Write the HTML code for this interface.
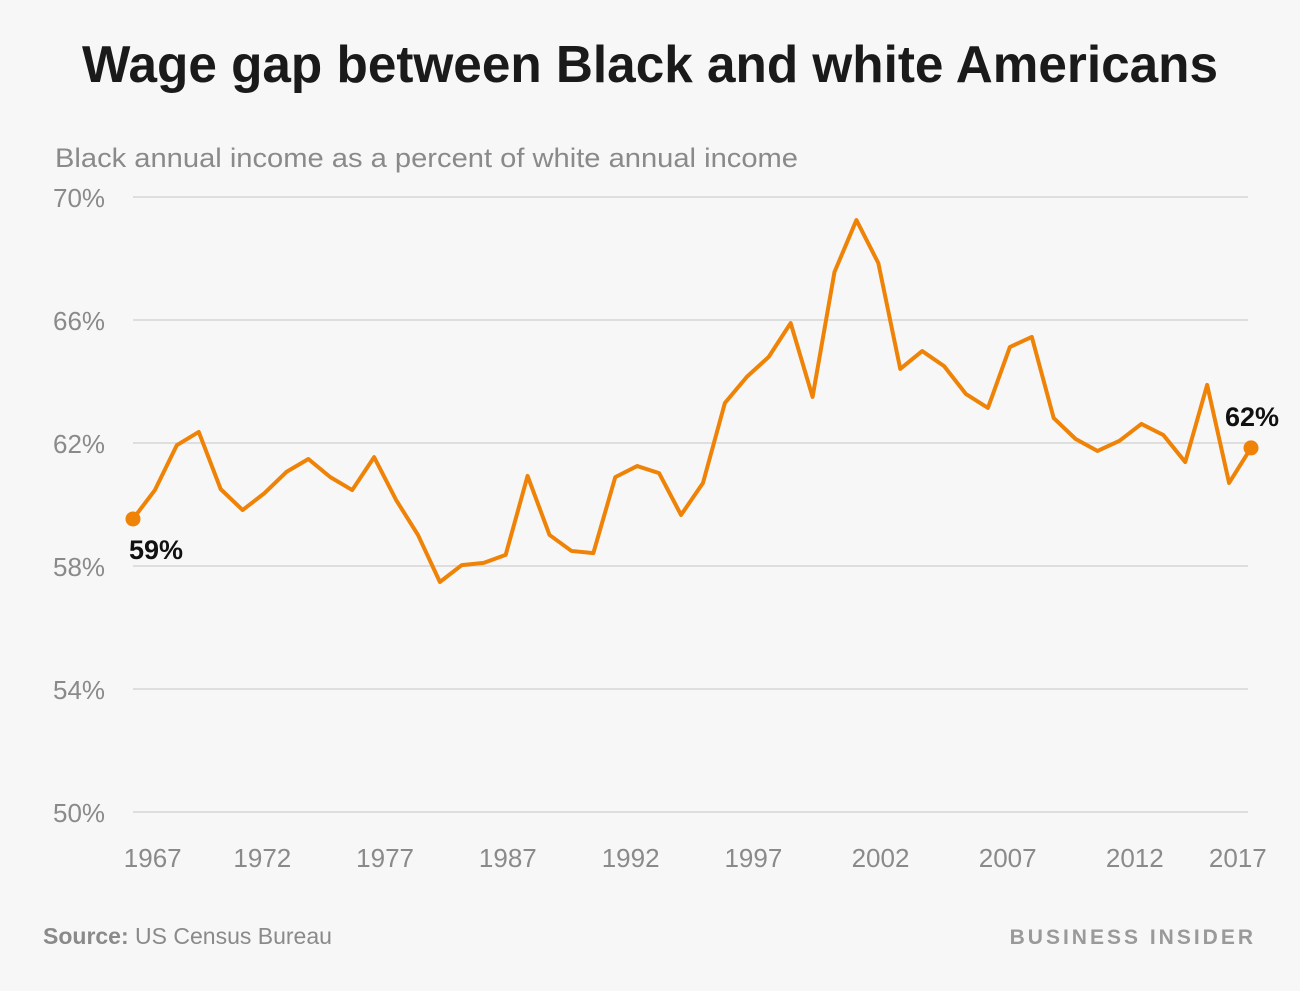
<!DOCTYPE html>
<html><head><meta charset="utf-8"><style>
body{margin:0;background:#f7f7f7;width:1300px;height:986px;overflow:hidden;font-family:"Liberation Sans",sans-serif}
</style></head><body>
<svg id="chart" width="1300" height="986" xmlns="http://www.w3.org/2000/svg">
<rect width="1300" height="986" fill="#f7f7f7"/>
<text x="650" y="82" text-anchor="middle" font-size="52" font-weight="bold" fill="#1a1a1a" textLength="1136" lengthAdjust="spacingAndGlyphs">Wage gap between Black and white Americans</text>
<text x="55" y="167" font-size="27" fill="#8a8a8a" textLength="743" lengthAdjust="spacingAndGlyphs">Black annual income as a percent of white annual income</text>
<g id="grid"></g><g id="ylabels"></g><g id="xlabels"></g><g id="series"></g>
<text x="43" y="944" font-size="23" fill="#8a8a8a"><tspan font-weight="bold">Source:</tspan> US Census Bureau</text>
<text x="1256" y="944" text-anchor="end" font-size="21" font-weight="bold" letter-spacing="3" fill="#9a9a9a">BUSINESS INSIDER</text>
</svg>
<script>
const values=[59.53,60.47,61.93,62.36,60.50,59.82,60.37,61.06,61.48,60.89,60.47,61.54,60.15,59.01,57.48,58.03,58.10,58.36,60.93,59.01,58.49,58.42,60.89,61.25,61.02,59.66,60.70,63.30,64.15,64.80,65.90,63.50,67.56,69.25,67.85,64.41,64.99,64.50,63.59,63.14,65.12,65.45,62.81,62.13,61.74,62.07,62.62,62.26,61.38,63.89,60.70,61.84];
const yTicks=[70,66,62,58,54,50];
const xTickLabels=["1967","1972","1977","1987","1992","1997","2002","2007","2012","2017"];
const xTickIdx=[0.9,5.9,11.5,17.1,22.7,28.3,34.1,39.9,45.7,50.4];
const NS="http://www.w3.org/2000/svg";
const x=i=>133+i*(1251-133)/(values.length-1);
const y=v=>197+(70-v)*30.75;
function mk(tag,attrs,parent){const e=document.createElementNS(NS,tag);for(const k in attrs)e.setAttribute(k,attrs[k]);document.getElementById(parent).appendChild(e);return e;}
yTicks.forEach(t=>{
 const l=mk('line',{x1:133,x2:1248,y1:y(t),y2:y(t),stroke:'#dedede','stroke-width':2},'grid');
 
 
 const tx=mk('text',{x:53,y:y(t)+10,'font-size':26,fill:'#8a8a8a'},'ylabels');
 tx.textContent=t+'%';
 
 
});
xTickLabels.forEach((lab,i)=>{
 const tx=mk('text',{x:x(xTickIdx[i]),y:867,'font-size':26,fill:'#8a8a8a','text-anchor':'middle'},'xlabels');
 tx.textContent=lab;
 
 
});
const p=mk('polyline',{points:values.map((v,i)=>x(i)+','+y(v)).join(' '),fill:'none',stroke:'#ee8307','stroke-width':4,'stroke-linejoin':'round'},'series');


const last=values.length-1;
[[0,'59%',x(0)+23,y(values[0])+40],[last,'62%',x(last)+1,y(values[last])-22]].forEach(([i,lab,tx0,ty0])=>{
 const c=mk('circle',{cx:x(i),cy:y(values[i]),r:7.5,fill:'#ee8307'},'series');
 
 
 const t=mk('text',{x:tx0,y:ty0,'font-size':27,'font-weight':'bold',fill:'#111','text-anchor':'middle'},'series');
 t.textContent=lab;
 
 
});
</script>
</body></html>
